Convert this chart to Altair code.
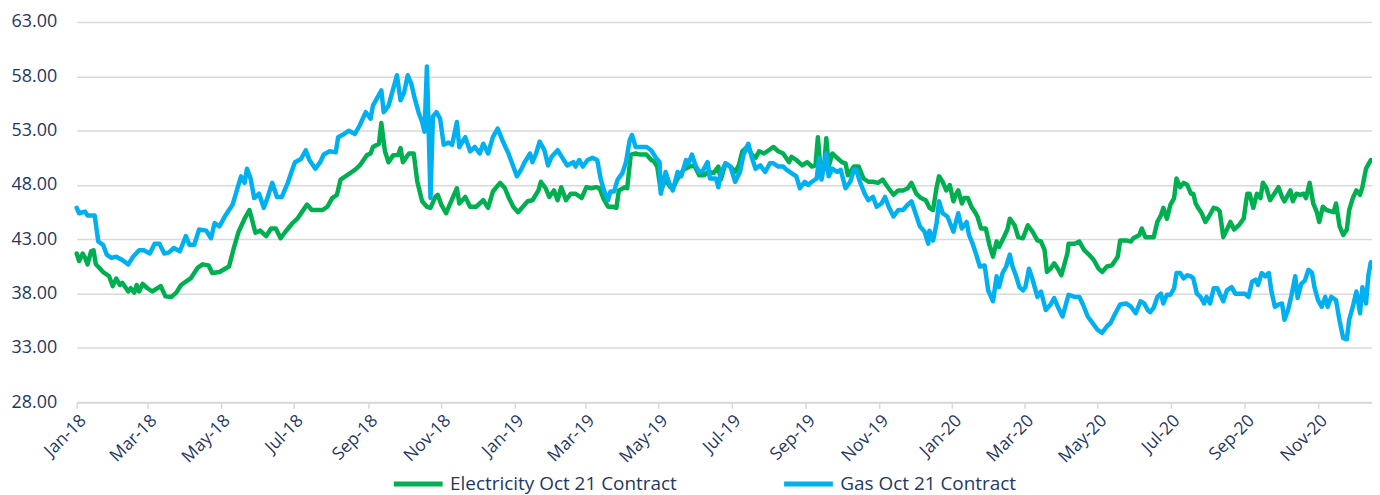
import altair as alt
import pandas as pd

# day offsets from 2018-01-01 and prices
elec_days = [
    0, 2, 5, 7, 9, 12, 14, 16, 22, 27, 30, 33, 36, 38, 43, 45, 48, 50, 52, 55,
    59, 63, 70, 74, 79, 83, 87, 91, 95, 101, 105, 110, 113, 119, 127, 131, 135, 140, 144, 146,
    149, 153, 158, 162, 166, 170, 174, 180,
    184, 188, 192, 196, 200, 205, 209, 213, 217, 220, 224, 228, 232, 236, 242, 245, 247, 252, 254, 257,
    260, 264, 268, 270, 272, 277, 281, 284, 288, 292, 295, 299, 301, 304, 308, 311, 317, 319, 324, 328,
    333, 339, 343, 347, 353, 357,
    360, 364, 368, 372, 376, 380, 385, 387, 391, 394, 398, 401, 404, 408, 412, 416, 421, 425, 429, 433,
    436, 439, 443, 447, 450, 452, 457, 459, 462, 466, 470, 475, 479, 481, 484, 487, 491, 495, 498, 502,
    506, 511, 515, 519, 523, 527, 531, 535,
    537, 541, 545, 549, 552, 555, 559, 563, 566, 569, 573, 577, 581, 585, 589, 594, 596, 600, 605, 609,
    613, 616, 618, 620, 623, 625, 627, 630, 634, 638, 641, 643, 648, 652, 656, 660, 664, 668, 672, 675,
    681, 685, 689, 693, 696, 700, 704, 708, 711, 714,
    717, 719, 722, 725, 728, 731, 733, 735, 738, 740, 743, 746, 749, 751, 754, 758, 761, 764, 767, 769,
    773, 776, 778, 782, 785, 789, 793, 797, 801, 804, 807, 809, 812, 815, 818, 821, 823, 826, 827, 832,
    836, 840, 844, 848, 852, 855, 859, 863, 868, 870, 875, 879, 881, 886, 888, 891,
    894, 898, 901, 904, 906, 909, 912, 915, 917, 920, 923, 926, 929, 931, 933, 935, 938, 941, 944, 948,
    951, 953, 956, 959, 962, 965, 969, 973, 976, 978, 981, 984, 987, 989, 992, 995, 998, 1002, 1005, 1007,
    1012, 1014, 1017, 1020, 1023, 1025, 1028, 1031, 1034, 1036, 1039, 1042, 1045, 1048, 1050, 1053, 1056, 1059, 1061, 1064,
    1067, 1070, 1072, 1075, 1079,
]
elec_values = [
    41.7, 41.0, 41.7, 41.3, 40.7, 41.9, 42.0, 40.7, 40.0, 39.6, 38.7, 39.4, 38.8, 39.0, 38.2, 38.5, 38.1, 38.8, 38.2, 38.9,
    38.5, 38.2, 38.7, 37.75, 37.7, 38.1, 38.8, 39.1, 39.4, 40.4, 40.7, 40.6, 39.9, 40.0, 40.5, 42.2, 43.7, 44.9, 45.7, 44.9,
    43.6, 43.8, 43.3, 44.0, 44.0, 43.1, 43.7, 44.5,
    44.9, 45.55, 46.2, 45.7, 45.7, 45.7, 46.0, 46.8, 47.1, 48.5, 48.8, 49.1, 49.4, 49.8, 50.75, 50.9, 51.5, 51.8, 53.7, 51.1,
    50.1, 50.75, 50.75, 51.4, 50.1, 50.9, 50.9, 48.3, 46.5, 46.0, 45.9, 46.9, 47.1, 46.2, 45.4, 46.2, 47.7, 46.3, 46.9, 46.0,
    46.0, 46.6, 45.9, 47.4, 48.2, 47.7,
    46.9, 46.0, 45.5, 46.0, 46.5, 46.6, 47.5, 48.3, 47.7, 46.9, 47.5, 46.6, 47.8, 46.6, 47.2, 47.2, 46.8, 47.8, 47.7, 47.8,
    47.7, 46.8, 46.0, 46.0, 45.9, 47.5, 47.8, 47.7, 50.8, 50.9, 50.8, 50.8, 50.3, 50.2, 49.7, 47.5, 48.5, 47.8, 47.9, 48.8,
    49.4, 49.7, 49.8, 48.9, 48.9, 49.2, 49.1, 49.7,
    48.5, 50.0, 49.7, 49.2, 49.8, 51.1, 51.5, 50.8, 50.5, 51.1, 50.9, 51.2, 51.5, 51.1, 50.9, 50.1, 50.6, 50.3, 49.8, 50.1,
    49.7, 49.8, 52.4, 49.7, 49.4, 52.3, 49.7, 50.9, 50.5, 50.1, 50.0, 48.9, 49.7, 49.7, 48.6, 48.3, 48.3, 48.2, 48.5, 48.0,
    47.1, 47.5, 47.5, 47.7, 48.2, 47.2, 46.8, 46.6, 45.9, 45.7,
    47.8, 48.8, 48.3, 47.5, 48.0, 46.5, 47.1, 47.5, 46.3, 46.8, 46.8, 46.0, 45.5, 45.1, 44.0, 44.0, 42.5, 41.4, 42.8, 42.3,
    43.2, 43.9, 44.9, 44.3, 43.2, 43.1, 44.3, 43.7, 42.9, 42.8, 42.0, 40.0, 40.3, 40.8, 40.3, 39.7, 40.5, 41.7, 42.6, 42.6,
    42.8, 42.0, 41.6, 41.1, 40.3, 40.0, 40.5, 40.6, 41.4, 42.9, 42.9, 42.8, 43.1, 43.4, 44.0, 43.2,
    43.2, 43.2, 44.6, 45.2, 45.9, 44.9, 46.2, 46.8, 48.6, 47.8, 48.2, 48.0, 47.2, 47.2, 46.3, 45.9, 45.4, 44.6, 45.1, 45.9,
    45.8, 45.6, 43.2, 43.9, 44.6, 43.9, 44.3, 44.9, 47.2, 47.2, 45.9, 47.2, 46.8, 48.2, 47.7, 46.6, 47.1, 47.8, 46.9, 46.5,
    47.5, 46.5, 47.2, 47.1, 47.2, 46.8, 48.2, 46.3, 45.5, 44.6, 46.0, 45.7, 45.6, 45.5, 46.3, 44.2, 43.4, 43.9, 45.7, 46.8,
    47.5, 47.1, 47.8, 49.5, 50.3,
]

gas_days = [
    0, 2, 7, 9, 15, 18, 22, 25, 29, 33, 38, 43, 47, 52, 56, 61, 65, 69, 73, 77,
    81, 86, 91, 94, 98, 102, 108, 112, 115, 119, 124, 130, 134, 137, 140, 142, 145, 148, 152, 156,
    159, 163, 167, 171, 176, 180,
    182, 187, 191, 194, 199, 203, 206, 211, 216, 218, 223, 227, 232, 236, 241, 245, 247, 250, 254, 256,
    260, 264, 267, 270, 273, 276, 279, 282, 285, 288, 290, 292, 295, 297, 300, 303, 306, 310, 313, 317,
    319, 324, 328, 332, 336, 339, 343, 347, 351,
    355, 360, 364, 367, 371, 373, 378, 380, 383, 386, 390, 393, 396, 401, 405, 409, 414, 416, 419, 422,
    426, 430, 434, 437, 440, 443, 445, 448, 451, 455, 458, 461, 463, 466, 470, 475, 479, 483, 486, 487,
    491, 494, 497, 501, 504, 508, 510, 513, 516, 519, 522, 526, 528, 533, 535,
    537, 541, 545, 549, 553, 556, 560, 563, 566, 570, 574, 578, 581, 585, 589, 592, 596, 600, 603, 607,
    610, 613, 617, 619, 621, 625, 627, 630, 634, 637, 641, 645, 648, 650, 653, 657, 660, 664, 667, 671,
    674, 677, 681, 685, 689, 693, 696, 700, 703, 707, 710, 711, 714,
    717, 719, 722, 726, 731, 735, 738, 742, 744, 747, 750, 753, 757, 760, 764, 767, 769, 772, 775, 778,
    780, 783, 786, 789, 791, 794, 797, 801, 804, 808, 812, 815, 818, 822, 825, 827, 832, 836, 839, 843,
    847, 851, 855, 859, 862, 866, 870, 875, 879, 883, 887, 890, 893,
    895, 898, 901, 904, 906, 909, 912, 915, 917, 920, 923, 926, 929, 931, 934, 937, 940, 942, 945, 948,
    951, 953, 956, 959, 963, 966, 970, 974, 977, 980, 983, 985, 988, 991, 994, 996, 999, 1002, 1005, 1007,
    1010, 1013, 1016, 1018, 1021, 1024, 1027, 1030, 1032, 1035, 1038, 1041, 1043, 1046, 1050, 1053, 1056, 1059, 1061, 1064,
    1067, 1070, 1072, 1075, 1077, 1079,
]
gas_values = [
    45.9, 45.4, 45.55, 45.2, 45.2, 42.8, 42.5, 41.6, 41.3, 41.4, 41.1, 40.7, 41.4, 42.0, 42.0, 41.7, 42.6, 42.6, 41.7, 41.8,
    42.2, 41.9, 43.3, 42.5, 42.5, 43.9, 43.8, 43.1, 44.5, 44.2, 45.2, 46.2, 47.7, 48.8, 48.2, 49.5, 48.6, 46.8, 47.2, 45.9,
    46.8, 48.2, 46.9, 46.9, 48.2, 49.5,
    50.1, 50.4, 51.2, 50.3, 49.5, 50.1, 50.8, 51.1, 51.0, 52.4, 52.7, 53.0, 52.7, 53.5, 54.7, 54.1, 55.3, 55.9, 56.7, 54.7,
    55.3, 56.9, 58.1, 55.8, 56.5, 58.1, 57.3, 55.9, 54.7, 53.8, 52.9, 58.9, 46.8, 54.3, 54.7, 54.1, 51.7, 51.9, 51.7, 53.8,
    51.5, 52.4, 51.1, 51.5, 50.9, 51.8, 50.9, 52.4, 53.2,
    52.1, 50.9, 49.7, 48.8, 49.5, 50.0, 50.9, 50.1, 50.9, 52.0, 51.2, 49.8, 50.6, 51.2, 50.5, 49.8, 50.1, 49.7, 50.3, 49.7,
    50.3, 50.5, 50.3, 48.5, 47.4, 46.6, 47.4, 47.4, 48.5, 49.1, 50.1, 52.1, 52.6, 51.5, 51.5, 51.5, 51.2, 50.5, 50.1, 47.2,
    49.2, 48.2, 47.5, 49.2, 48.8, 50.3, 50.0, 50.8, 49.8, 49.2, 49.3, 50.1, 48.6, 48.6, 47.8,
    49.1, 50.0, 49.7, 48.3, 49.2, 50.8, 51.8, 50.5, 49.5, 49.8, 49.2, 50.0, 50.0, 49.7, 49.7, 49.4, 49.1, 48.8, 47.7, 48.3,
    48.0, 48.3, 48.6, 50.5, 48.5, 50.9, 48.8, 49.5, 49.2, 49.4, 47.7, 48.3, 49.4, 49.4, 48.3, 47.2, 46.6, 46.9, 46.0, 46.3,
    46.9, 46.0, 45.1, 45.7, 45.7, 46.2, 46.5, 45.2, 44.2, 43.7, 42.6, 43.8, 42.9,
    44.5, 46.5, 45.4, 45.1, 43.7, 45.4, 44.0, 44.6, 43.4, 42.6, 41.6, 40.5, 40.6, 38.3, 37.3, 39.6, 38.6, 39.9, 40.5, 41.6,
    40.6, 39.7, 38.6, 38.3, 38.6, 40.3, 39.3, 37.7, 38.2, 36.5, 37.0, 37.6, 36.8, 35.9, 37.1, 37.9, 37.7, 37.7, 37.0, 35.9,
    35.3, 34.7, 34.4, 35.0, 35.3, 36.2, 37.0, 37.1, 36.8, 36.2, 37.3, 37.1, 36.5,
    36.3, 36.7, 37.7, 38.0, 37.1, 37.9, 37.9, 38.5, 39.9, 39.9, 39.4, 39.7, 39.6, 39.4, 38.0, 37.7, 37.1, 37.7, 37.1, 38.5,
    38.5, 38.0, 37.3, 38.3, 38.6, 38.0, 38.0, 38.0, 37.7, 39.1, 39.3, 38.8, 39.9, 39.6, 39.9, 38.3, 36.8, 37.0, 37.1, 35.6,
    36.5, 37.9, 39.6, 37.6, 38.9, 39.2, 40.2, 39.9, 38.6, 37.4, 36.8, 37.7, 36.8, 37.7, 37.4, 35.5, 33.9, 33.8, 35.6, 36.8,
    38.2, 36.2, 38.6, 37.1, 39.7, 40.9,
]

series_names = ["Electricity Oct 21 Contract", "Gas Oct 21 Contract"]
series_colors = ["#00B050", "#00B0F0"]
y_ticks = [28, 33, 38, 43, 48, 53, 58, 63]
tick_months = [1, 3, 5, 7, 9, 11]
tick_years = [2018, 2019, 2020]

assert len(elec_days) == len(elec_values)
assert len(gas_days) == len(gas_values)

start = pd.Timestamp("2018-01-01")
df = pd.concat([
    pd.DataFrame({"date": start + pd.to_timedelta(elec_days, unit="D"),
                  "price": elec_values, "series": series_names[0], "k": 0}),
    pd.DataFrame({"date": start + pd.to_timedelta(gas_days, unit="D"),
                  "price": gas_values, "series": series_names[1], "k": 1}),
], ignore_index=True)

x_tick_values = [alt.DateTime(year=y, month=m, date=1) for y in tick_years for m in tick_months]

FONT = "Open Sans"
TEXT = "#1F3864"

chart = alt.Chart(df).mark_line(strokeWidth=4.5, strokeCap="round", strokeJoin="round").encode(
    x=alt.X("date:T",
            scale=alt.Scale(domain=[alt.DateTime(year=2018, month=1, date=1),
                                    alt.DateTime(year=2020, month=12, date=16)], nice=False),
            axis=alt.Axis(values=x_tick_values, format="%b-%y", labelAngle=-45, title=None,
                          grid=False, tickSize=6, tickColor="#D9D9D9", tickWidth=1.5,
                          domainColor="#D9D9D9", domainWidth=2, labelPadding=3,
                          labelFontSize=17.5, labelColor=TEXT, labelFont=FONT)),
    y=alt.Y("price:Q",
            scale=alt.Scale(domain=[28, 63], nice=False, zero=False),
            axis=alt.Axis(values=y_ticks, format=".2f", title=None, domain=False, ticks=False,
                          gridColor="#D9D9D9", gridWidth=1.5, labelPadding=20,
                          labelFontSize=18, labelColor=TEXT, labelFont=FONT)),
    color=alt.Color("series:N",
                    scale=alt.Scale(domain=series_names, range=series_colors),
                    legend=alt.Legend(title=None, orient="none", direction="horizontal",
                                      legendX=316, legendY=437, symbolType="stroke",
                                      symbolStrokeWidth=5, symbolSize=2401, labelOffset=5,
                                      columnPadding=97, labelFontSize=19, labelColor=TEXT,
                                      labelFont=FONT, padding=0, labelLimit=400)),
    order=alt.Order("k:Q"),
).properties(
    width=1301, height=382,
    autosize=alt.AutoSizeParams(type="none"),
    padding={"left": 69, "top": 13, "right": 0, "bottom": 92},
).configure_view(stroke=None)

chart.save("out.html", embed_options={"renderer": "svg", "actions": False})
